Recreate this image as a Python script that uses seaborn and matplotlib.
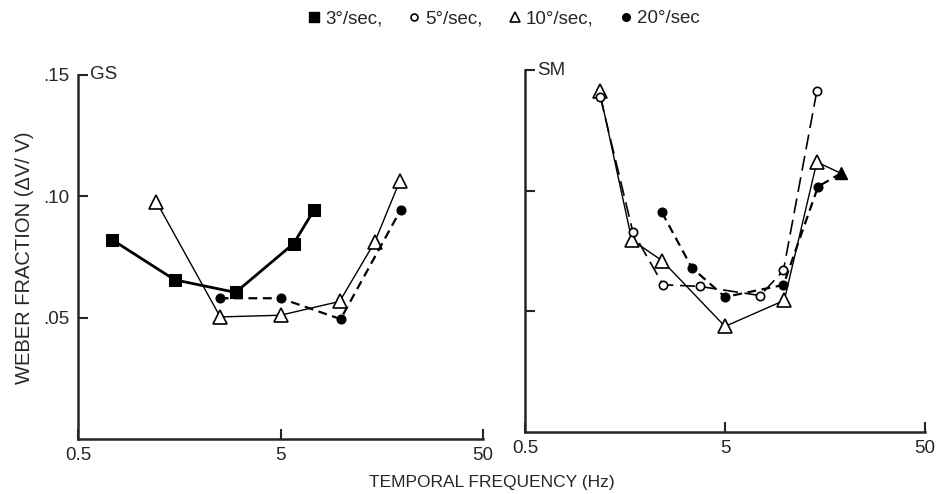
import numpy as np
import pandas as pd
import seaborn as sns
import matplotlib.pyplot as plt
from matplotlib.lines import Line2D
from matplotlib.ticker import FixedLocator, FixedFormatter, NullLocator

# GS panel
gs3_hz = [0.74, 1.5, 3.0, 5.8, 7.3]
gs3_wf = [0.082, 0.0656, 0.0604, 0.0805, 0.0942]
gs10_hz = [1.22, 2.52, 5.0, 9.8, 14.6, 19.4]
gs10_wf = [0.0977, 0.0503, 0.051, 0.0567, 0.0812, 0.1063]
gs20_hz = [2.5, 5.0, 9.9, 19.6]
gs20_wf = [0.058, 0.058, 0.0494, 0.0944]

# SM panel (last point of 10 and 20 deg/sec is the shared filled triangle)
sm5_hz = [1.19, 1.73, 2.45, 3.73, 7.5, 9.8, 14.4]
sm5_wf = [0.139, 0.0831, 0.0611, 0.0604, 0.0566, 0.067, 0.1414]
sm10_hz = [1.18, 1.71, 2.43, 5.0, 9.9, 14.4, 19.0]
sm10_wf = [0.1415, 0.0797, 0.071, 0.0438, 0.0546, 0.112, 0.1073]
sm20_hz = [2.42, 3.41, 5.0, 9.8, 14.6, 19.0]
sm20_wf = [0.0911, 0.0682, 0.056, 0.061, 0.1018, 0.1073]

x_ticks = [0.5, 5, 50]
x_ticklabels = ["0.5", "5", "50"]
y_ticks = [0.05, 0.10, 0.15]
y_ticklabels = [".05", ".10", ".15"]

sns.set_style("ticks")
plt.rcParams['font.family'] = ['Liberation Sans', 'DejaVu Sans']

STYLE = {
    "3": dict(color="black", lw=2.0, ls="-", marker="s", ms=8, mfc="black", mec="black"),
    "5": dict(color="black", lw=1.2, ls=(0, (9, 4)), marker="o", ms=6, mfc="white", mec="black", mew=1.2),
    "10": dict(color="black", lw=1.0, ls="-", marker="^", ms=10, mfc="white", mec="black", mew=1.2),
    "20": dict(color="black", lw=1.6, ls=(0, (4, 2.5)), marker="o", ms=6.5, mfc="black", mec="black"),
}

fig = plt.figure(figsize=(9.42, 4.94), dpi=100)
ax_gs = fig.add_axes([0.0828, 0.1113, 0.43, 0.737])
ax_sm = fig.add_axes([0.5573, 0.1255, 0.4246, 0.732])


def draw(ax, hz, wf, key, **extra):
    df = pd.DataFrame({"hz": hz, "wf": wf})
    sns.lineplot(data=df, x="hz", y="wf", ax=ax, sort=False, estimator=None,
                 **STYLE[key], **extra)


draw(ax_gs, gs10_hz, gs10_wf, "10")
draw(ax_gs, gs20_hz, gs20_wf, "20")
draw(ax_gs, gs3_hz, gs3_wf, "3")

draw(ax_sm, sm10_hz, sm10_wf, "10", markevery=list(range(len(sm10_hz) - 1)))
draw(ax_sm, sm5_hz, sm5_wf, "5")
draw(ax_sm, sm20_hz, sm20_wf, "20", markevery=list(range(len(sm20_hz) - 1)))
ax_sm.plot(sm10_hz[-1:], sm10_wf[-1:], ls="none", marker="^", ms=9, color="black")

for ax, name in [(ax_gs, "GS"), (ax_sm, "SM")]:
    ax.set_xscale("log")
    ax.set_xlim(0.5, 50)
    ax.set_ylim(0, 0.15)
    ax.xaxis.set_major_locator(FixedLocator(x_ticks))
    ax.xaxis.set_major_formatter(FixedFormatter(x_ticklabels))
    ax.xaxis.set_minor_locator(NullLocator())
    ax.yaxis.set_major_locator(FixedLocator(y_ticks))
    ax.set_xlabel("")
    ax.set_ylabel("")
    ax.tick_params(direction="in", length=7, width=1.5, labelsize=13.5, pad=6)
    for s in ["top", "right"]:
        ax.spines[s].set_visible(False)
    for s in ["left", "bottom"]:
        ax.spines[s].set_linewidth(1.8)
    ax.text(0.03, 1.0, name, transform=ax.transAxes, fontsize=13.5, va="center", ha="left")

ax_gs.yaxis.set_major_formatter(FixedFormatter(y_ticklabels))
ax_sm.set_yticklabels([])

fig.text(0.026, 0.478, "WEBER FRACTION (\u0394V/ V)", rotation=90, fontsize=14.5,
         ha="center", va="center")
fig.text(0.522, 0.024, "TEMPORAL FREQUENCY (Hz)", fontsize=12.5, ha="center", va="center")

handles = [
    Line2D([], [], ls="none", marker="s", ms=7, mfc="black", mec="black"),
    Line2D([], [], ls="none", marker="o", ms=5, mfc="white", mec="black", mew=1.2),
    Line2D([], [], ls="none", marker="^", ms=7, mfc="white", mec="black", mew=1.2),
    Line2D([], [], ls="none", marker="o", ms=5.5, mfc="black", mec="black"),
]
labels = ["3\u00b0/sec,", "5\u00b0/sec,", "10\u00b0/sec,", "20\u00b0/sec"]
fig.legend(handles, labels, loc="center", bbox_to_anchor=(0.535, 0.962), ncol=4,
           frameon=False, fontsize=13.5, handlelength=0.6, handletextpad=0.3,
           columnspacing=1.4)

fig.savefig("out.png", dpi=100)
